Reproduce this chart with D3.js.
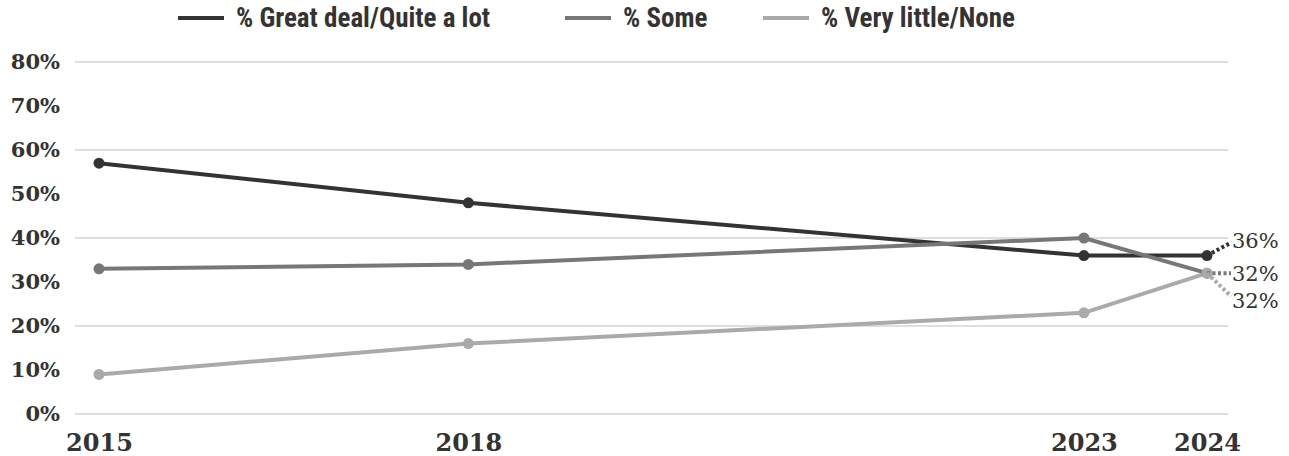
<!DOCTYPE html>
<html>
<head>
<meta charset="utf-8">
<script src="https://cdn.jsdelivr.net/npm/d3@7"></script>
<style>
  html, body { margin: 0; padding: 0; background: #fff; }
  svg { display: block; }
  .legend text { font-family: "Liberation Sans Narrow", "Roboto Condensed", "Liberation Sans", sans-serif; font-weight: bold; font-size: 27px; fill: #333; }
  .yaxis text { font-family: "DejaVu Serif", "Liberation Serif", serif; font-weight: bold; font-size: 21px; fill: #333; }
  .xaxis text { font-family: "DejaVu Serif", "Liberation Serif", serif; font-weight: bold; font-size: 24px; fill: #333; }
  .endlabel { font-family: "DejaVu Serif", "Liberation Serif", serif; font-size: 21px; fill: #333; }
</style>
</head>
<body>
<svg id="chart" width="1289" height="456"></svg>
<script>
// Survey years and shares of confidence responses
const years = [2015, 2018, 2023, 2024];
const greatDeal = [57, 48, 36, 36];
const some = [33, 34, 40, 32];
const veryLittle = [9, 16, 23, 32];
const seriesNames = ["% Great deal/Quite a lot", "% Some", "% Very little/None"];
const seriesColors = ["#333333", "#777777", "#aaaaaa"];
const yTicks = [0, 10, 20, 30, 40, 50, 60, 70, 80];
const gridTicks = [0, 20, 40, 60, 80];

const series = [greatDeal, some, veryLittle].map((vals, i) => ({
  name: seriesNames[i],
  color: seriesColors[i],
  values: vals.map((v, j) => ({ year: years[j], value: v }))
}));

const svg = d3.select("#chart");

const x = d3.scaleLinear().domain([2015, 2024]).range([99, 1207]);
const y = d3.scaleLinear().domain([0, 80]).range([414, 62]);

// horizontal gridlines every 20%
svg.append("g")
  .selectAll("line")
  .data(gridTicks)
  .join("line")
  .attr("x1", 75).attr("x2", 1228)
  .attr("y1", d => y(d)).attr("y2", d => y(d))
  .attr("stroke", "#d4d4d4")
  .attr("stroke-width", 1.5);

// y axis labels
const yAxis = svg.append("g")
  .attr("class", "yaxis")
  .attr("transform", "translate(68,0)")
  .call(d3.axisLeft(y).tickValues(yTicks).tickFormat(d => d + "%").tickSize(0).tickPadding(8));
yAxis.select(".domain").remove();

// x axis labels
const xAxis = svg.append("g")
  .attr("class", "xaxis")
  .attr("transform", "translate(0,430)")
  .call(d3.axisBottom(x).tickValues(years).tickFormat(d3.format("d")).tickSize(0).tickPadding(4));
xAxis.select(".domain").remove();

const line = d3.line().x(d => x(d.year)).y(d => y(d.value));

const g = svg.append("g");
series.forEach(s => {
  g.append("path")
    .datum(s.values)
    .attr("fill", "none")
    .attr("stroke", s.color)
    .attr("stroke-width", 4)
    .attr("d", line);
});
series.forEach(s => {
  g.selectAll(null)
    .data(s.values)
    .join("circle")
    .attr("cx", d => x(d.year))
    .attr("cy", d => y(d.value))
    .attr("r", 5.5)
    .attr("fill", s.color);
});

// end-of-line value labels with dotted leaders
const labelOffsets = [-15, 0, 27];
series.forEach((s, i) => {
  const last = s.values[s.values.length - 1];
  const px = x(last.year), py = y(last.value);
  const ly = py + labelOffsets[i];
  g.append("line")
    .attr("x1", px).attr("y1", py)
    .attr("x2", px + 24).attr("y2", ly - (labelOffsets[i] > 0 ? 4 : labelOffsets[i] < 0 ? -2 : 0))
    .attr("stroke", s.color)
    .attr("stroke-width", 4)
    .attr("stroke-dasharray", "3,2.5");
  g.append("text")
    .attr("class", "endlabel")
    .attr("x", px + 25)
    .attr("y", ly)
    .attr("dy", "0.35em")
    .text(last.value + "%");
});

// legend
const legendX = [178, 565, 763];
const legend = svg.append("g").attr("class", "legend");
series.forEach((s, i) => {
  const lg = legend.append("g").attr("transform", `translate(${legendX[i]},18)`);
  lg.append("line").attr("x1", 0).attr("x2", 46).attr("y1", 0).attr("y2", 0)
    .attr("stroke", s.color).attr("stroke-width", 4);
  lg.append("text").attr("x", 58).attr("y", 0).attr("dy", "0.35em").text(s.name);
});
</script>
</body>
</html>
